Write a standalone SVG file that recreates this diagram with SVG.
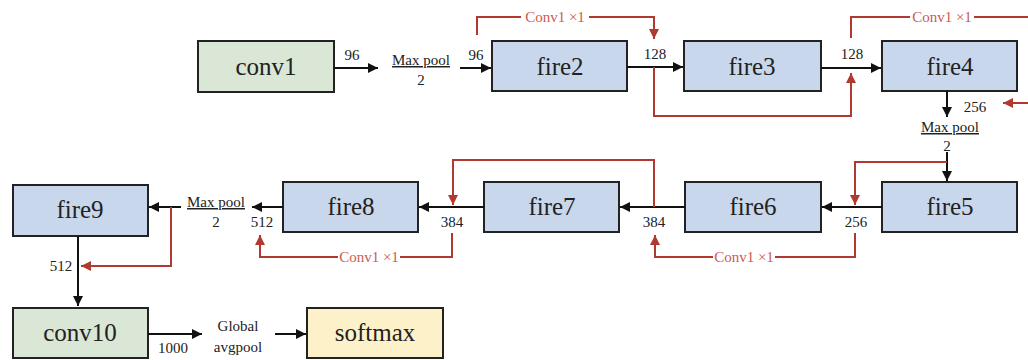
<svg xmlns="http://www.w3.org/2000/svg" width="1028" height="360" viewBox="0 0 1028 360" font-family="'Liberation Serif', 'Times New Roman', 'DejaVu Serif', serif">
<defs>
<marker id="ab" viewBox="0 0 10 10" refX="10" refY="5" markerWidth="5" markerHeight="5" orient="auto" markerUnits="strokeWidth"><path d="M0,0 L10,5 L0,10 z" fill="#111"/></marker>
<marker id="ar" viewBox="0 0 10 10" refX="10" refY="5" markerWidth="5" markerHeight="5" orient="auto" markerUnits="strokeWidth"><path d="M0,0 L10,5 L0,10 z" fill="#b03a30"/></marker>
</defs>
<style>
.box{stroke:#222;stroke-width:2}
.fire{fill:#c9d7ec}
.conv{fill:#dae6d6}
.soft{fill:#fdf1c9}
text{font-family:'Liberation Serif','Times New Roman','DejaVu Serif',serif}
.bt{font-size:25px;fill:#222;text-anchor:middle}
.lb{font-size:15px;fill:#222;text-anchor:middle}
.rl{font-size:15px;fill:#cc5a50;text-anchor:middle}
.bl{fill:none;stroke:#111;stroke-width:2}
.rd{fill:none;stroke:#b03a30;stroke-width:2}
</style>
<g id="conv1"><rect class="box conv" x="198" y="41" width="136" height="51"/><text class="bt" x="266" y="75">conv1</text></g>
<g id="fire2"><rect class="box fire" x="492" y="41" width="135" height="50"/><text class="bt" x="560" y="75">fire2</text></g>
<g id="fire3"><rect class="box fire" x="684" y="41" width="137" height="50"/><text class="bt" x="752" y="75">fire3</text></g>
<g id="fire4"><rect class="box fire" x="882" y="41" width="135" height="50"/><text class="bt" x="950" y="75">fire4</text></g>
<g id="fire5"><rect class="box fire" x="882" y="182" width="135" height="50"/><text class="bt" x="950" y="215">fire5</text></g>
<g id="fire6"><rect class="box fire" x="685" y="182" width="136" height="50"/><text class="bt" x="753" y="215">fire6</text></g>
<g id="fire7"><rect class="box fire" x="484" y="182" width="135" height="50"/><text class="bt" x="552" y="215">fire7</text></g>
<g id="fire8"><rect class="box fire" x="283" y="182" width="135" height="50"/><text class="bt" x="351" y="215">fire8</text></g>
<g id="fire9"><rect class="box fire" x="13" y="185" width="135" height="51"/><text class="bt" x="80" y="218">fire9</text></g>
<g id="conv10"><rect class="box conv" x="13" y="308" width="135" height="50"/><text class="bt" x="80" y="341">conv10</text></g>
<g id="softmax"><rect class="box soft" x="307" y="308" width="136" height="50"/><text class="bt" x="375" y="341">softmax</text></g>
<g id="connectors">
<path class="bl" d="M334,68 H378" marker-end="url(#ab)"/>
<path class="bl" d="M460,68 H491" marker-end="url(#ab)"/>
<path class="bl" d="M627,67 H683" marker-end="url(#ab)"/>
<path class="bl" d="M821,68 H881" marker-end="url(#ab)"/>
<path class="bl" d="M947,91 V117" marker-end="url(#ab)"/>
<path class="bl" d="M947,152 V181" marker-end="url(#ab)"/>
<path class="bl" d="M882,207 H822" marker-end="url(#ab)"/>
<path class="bl" d="M685,207 H620" marker-end="url(#ab)"/>
<path class="bl" d="M484,207 H419" marker-end="url(#ab)"/>
<path class="bl" d="M283,207 H252" marker-end="url(#ab)"/>
<path class="bl" d="M181,207 H149" marker-end="url(#ab)"/>
<path class="bl" d="M78,236 V306" marker-end="url(#ab)"/>
<path class="bl" d="M148,334 H202" marker-end="url(#ab)"/>
<path class="bl" d="M275,334 H306" marker-end="url(#ab)"/>
<path class="rd" d="M477,35 V17 H521"/>
<path class="rd" d="M589,17 H654 V39" marker-end="url(#ar)"/>
<path class="rd" d="M654,67 V116 H851 V73" marker-end="url(#ar)"/>
<path class="rd" d="M851,38 V17 H910"/>
<path class="rd" d="M974,17 H1028"/>
<path class="rd" d="M1028,103 H1003" marker-end="url(#ar)"/>
<path class="rd" d="M947,162 H855 V205" marker-end="url(#ar)"/>
<path class="rd" d="M855,233 V257 H775"/>
<path class="rd" d="M713,257 H655 V235" marker-end="url(#ar)"/>
<path class="rd" d="M654,207 V160 H453 V205" marker-end="url(#ar)"/>
<path class="rd" d="M452,233 V257 H400"/>
<path class="rd" d="M338,257 H260 V235" marker-end="url(#ar)"/>
<path class="rd" d="M171,207 V266 H81" marker-end="url(#ar)"/>
</g>
<g id="labels">
<text class="lb" x="352" y="60">96</text>
<text class="lb" x="421" y="65" text-decoration="underline">Max pool</text>
<text class="lb" x="421" y="85">2</text>
<text class="lb" x="476" y="60">96</text>
<text class="lb" x="655" y="59">128</text>
<text class="lb" x="852" y="59">128</text>
<text class="lb" x="975" y="112">256</text>
<text class="lb" x="950" y="132" text-decoration="underline">Max pool</text>
<text class="lb" x="947" y="151">2</text>
<text class="lb" x="856" y="227">256</text>
<text class="lb" x="654" y="227">384</text>
<text class="lb" x="452" y="227">384</text>
<text class="lb" x="262" y="227">512</text>
<text class="lb" x="216" y="207" text-decoration="underline">Max pool</text>
<text class="lb" x="216" y="227">2</text>
<text class="lb" x="61" y="271">512</text>
<text class="lb" x="173" y="353">1000</text>
<text class="lb" x="238" y="331">Global</text>
<text class="lb" x="238" y="352">avgpool</text>
<text class="rl" x="555" y="22">Conv1 ×1</text>
<text class="rl" x="942" y="22">Conv1 ×1</text>
<text class="rl" x="744" y="262">Conv1 ×1</text>
<text class="rl" x="369" y="262">Conv1 ×1</text>
</g>
</svg>
